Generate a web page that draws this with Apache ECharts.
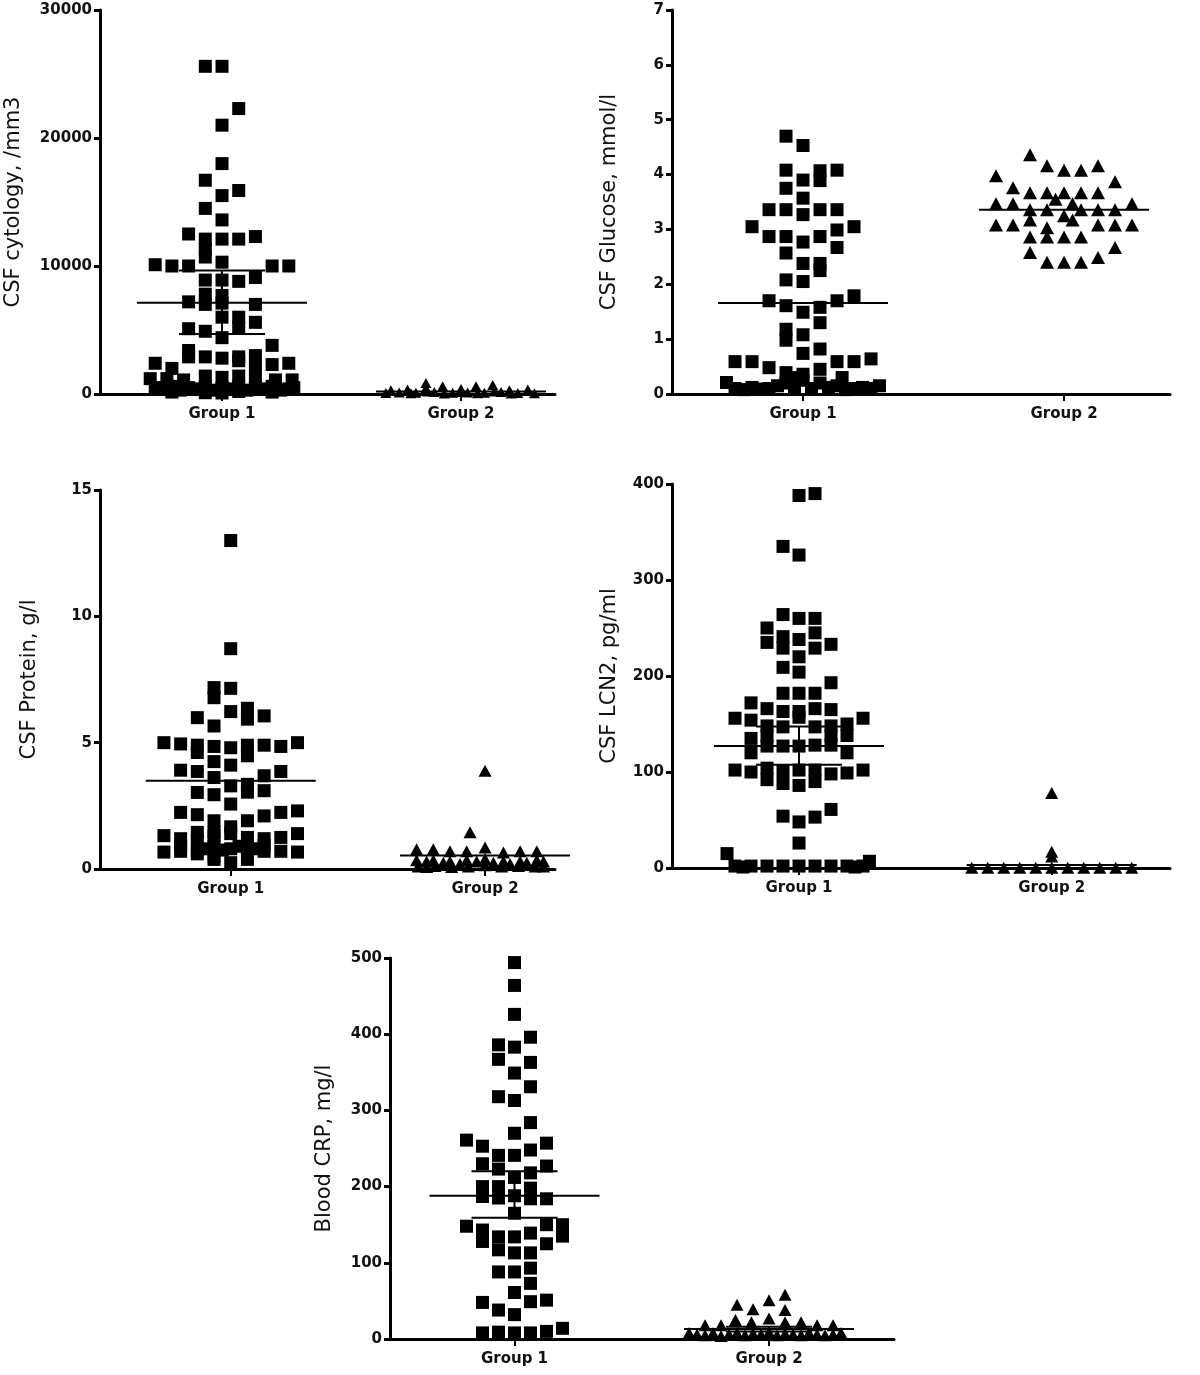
<!DOCTYPE html>
<html><head><meta charset="utf-8">
<script src="https://cdn.jsdelivr.net/npm/echarts@6/dist/echarts.min.js"></script>
<style>html,body{margin:0;padding:0;background:#fff}#c{width:1200px;height:1375px}</style>
</head><body><div id="c"></div>
<script>
// ---------------- DATA ----------------
const groups = ['Group 1', 'Group 2'];
const titles = ['CSF cytology, /mm3', 'CSF Glucose, mmol/l', 'CSF Protein, g/l', 'CSF LCN2, pg/ml', 'Blood CRP, mg/l'];
const yMaxes = [30000, 7, 15, 400, 500];
const yIntervals = [10000, 1, 5, 100, 100];

// points: [jitter slot, value]
const cytoG1 = [[-1,25600],[0,25600],[1,22300],[0,21000],[0,18000],[-1,16700],[1,15900],[0,15500],[-1,14500],[0,13600],
 [-2,12500],[-1,12100],[0,12100],[1,12100],[2,12300],[-1,11300],[-1,10700],
 [-4,10100],[-3,10000],[-2,10000],[3,10000],[4,10000],[0,10300],
 [-1,8900],[0,8900],[1,8800],[2,9100],[-1,7800],[-1,7000],[-2,7200],[0,7700],[0,7100],[2,7000],
 [0,6000],[1,6000],[1,5200],[2,5600],[-2,5100],[-1,4900],[0,4400],[3,3800],
 [-2,3400],[-2,2900],[-1,2900],[0,2800],[1,2900],[2,3000],[1,2600],
 [-4,2400],[-3,2000],[2,2000],[3,2300],[4,2400],
 [-4.3,1200],[-3.3,1200],[-2.3,1100],[-1,1400],[0,1300],[1,1400],[2,1100],[3.2,1100],[4.2,1100],
 [-4,500],[-3.5,400],[-3,600],[-2.5,300],[-2,500],[-1.5,400],[-1,600],[-0.5,300],[0,500],[0.5,400],[1,600],[1.5,300],[2,500],[2.5,400],[3,600],[3.5,300],[4,400],[4.3,500],
 [-3,150],[-1,100],[1,200],[3,150],[0,80]];
const cytoG2 = [[-4.2,300],[-3.2,350],[-2.1,850],[-2.1,450],[-1.1,600],[0,400],[0.9,600],[1.9,700],[2.9,300],[4,350],
 [-4.5,80],[-3.7,120],[-2.7,100],[-1.6,150],[-0.5,100],[0.4,120],[1.4,90],[2.4,150],[3.4,80],[4.4,60],
 [-3,50],[-1,40],[1,60],[3,40],[0,150],[2,200],[-2,200]];
const cytoMean = [7120, 200];
const cytoErr = [[4690, 9650], null];

const gluG1 = [[-1,4.70],[0,4.53],[-1,4.08],[1,4.07],[1,3.89],[2,4.08],[0,3.90],[-1,3.75],[0,3.57],
 [-2,3.36],[-1,3.36],[1,3.36],[2,3.36],[0,3.27],[-3,3.05],[3,3.05],
 [-2,2.87],[-1,2.87],[1,2.87],[2,2.99],[0,2.77],[-1,2.57],[2,2.67],[0,2.38],[1,2.38],[1,2.25],
 [-1,2.08],[0,2.05],[-2,1.70],[-1,1.61],[1,1.58],[2,1.70],[3,1.79],[0,1.49],[1,1.30],
 [-1,1.18],[-1,0.98],[0,1.08],[1,0.82],[0,0.74],[-4,0.59],[-3,0.59],[2,0.59],[3,0.59],[4,0.64],
 [-2,0.48],[-1,0.39],[0,0.36],[1,0.45],[-4.5,0.21],[2.3,0.30],
 [-4,0.10],[-3.5,0.08],[-3,0.12],[-2.5,0.09],[-2,0.10],[-1.5,0.15],[-1,0.20],[-0.5,0.12],[0,0.25],[0.5,0.10],[1,0.20],[1.5,0.12],[2,0.15],[2.5,0.08],[3,0.10],[3.5,0.12],[4,0.10],[4.5,0.15],[-0.5,0.30]];
const gluG2 = [[-2,4.36],[-1,4.16],[0,4.08],[1,4.08],[2,4.16],[-4,3.98],[3,3.87],
 [-3,3.76],[-2,3.67],[-1,3.67],[0,3.67],[1,3.67],[2,3.67],[-0.5,3.55],
 [-4,3.47],[-3,3.47],[4,3.47],[0.5,3.47],[-2,3.36],[-1,3.36],[1,3.36],[2,3.36],[3,3.36],[0,3.25],
 [-2,3.17],[0.5,3.17],[-4,3.08],[-3,3.08],[2,3.08],[3,3.08],[4,3.08],[-1,3.03],
 [-2,2.86],[-1,2.86],[0,2.86],[1,2.86],[3,2.67],[-2,2.58],[-1,2.40],[0,2.40],[1,2.40],[2,2.49]];
const gluMean = [1.66, 3.36];
const gluErr = [null, null];

const protG1 = [[0,13.0],[0,8.72],[-1,7.18],[-1,6.78],[0,7.15],
 [-2,5.99],[-1,5.66],[0,6.23],[1,6.36],[1,5.93],[2,6.06],
 [-4,5.0],[-3,4.95],[-2,4.9],[-2,4.61],[-1,4.85],[0,4.8],[1,4.9],[1,4.48],[2,4.9],[3,4.85],[4,5.0],
 [-3,3.91],[-2,3.86],[-1,4.25],[0,4.11],[3,3.86],[2,3.69],
 [-1,3.62],[0,3.29],[1,3.35],[1,3.04],[-2,3.03],[-1,2.94],[2,3.1],[0,2.57],
 [-3,2.24],[-2,2.15],[3,2.24],[4,2.3],[2,2.1],[-1,1.91],[-1,1.45],[0,1.67],[1,1.91],[0,1.4],
 [-4,1.32],[-3,1.2],[-2,1.45],[-2,1.15],[-1,1.32],[1,1.25],[2,1.2],[3,1.25],[4,1.4],
 [-4,0.67],[-3,0.7],[-3,0.9],[-2,0.75],[-1,0.9],[-1,0.5],[0,0.8],[1,0.85],[1,0.38],[2,0.7],[2,0.95],[3,0.7],[4,0.67],[0,0.25],[-1,0.38],[-2,0.6],[0.5,0.9],[-0.5,0.75],[1.5,0.8],[-1.5,0.8]];
const protG2 = [[0,3.89],[-0.9,1.45],
 [-4.1,0.78],[-3.1,0.78],[-2.1,0.7],[-1.1,0.7],[0,0.85],[1.1,0.65],[2.1,0.7],[3.1,0.7],
 [-4.1,0.35],[-3.5,0.3],[-3.1,0.35],[-2.5,0.25],[-2.1,0.3],[-1.5,0.2],[-1.1,0.35],[-0.5,0.3],[0,0.4],[0.5,0.25],[1.1,0.3],[1.5,0.2],[2.1,0.3],[2.5,0.25],[3.1,0.35],[3.5,0.3],
 [-4,0.1],[-3,0.12],[-2,0.08],[-1,0.1],[0,0.15],[1,0.1],[2,0.12],[3,0.1],[3.5,0.1],[-3.5,0.08]];
const protMean = [3.49, 0.53];
const protErr = [null, null];

const lcnG1 = [[0,388],[1,390],[-1,335],[0,326],[-1,264],[0,260],[1,260],
 [-2,250],[-2,235],[-1,241],[-1,229],[0,238],[1,245],[1,229],[2,233],[0,220],[-1,209],[0,204],[2,193],
 [-1,182],[0,182],[1,182],[-3,172],[-2,166],[1,166],[2,165],[-1,163],[0,163],
 [-4,156],[-3,154],[-2,148],[-1,147],[0,157],[1,147],[2,148],[3,150],[4,156],
 [-3,135],[-3,120],[-2,138],[-2,127],[-1,127],[0,127],[1,128],[2,138],[2,128],[3,138],[3,120],
 [-4,102],[-3,100],[-2,104],[-2,92],[-1,101],[0,102],[1,102],[2,98],[3,99],[4,102],
 [-1,88],[0,86],[1,90],[-1,54],[0,48],[1,53],[2,61],[0,26],[-4.5,15],[4.4,7],
 [-4,2],[-3,2],[-2,2],[-1,2],[0,2],[1,2],[2,2],[3,2],[4,2],[-3.5,1],[3.5,1]];
const lcnG2 = [[0,78],[0,17],[0,12],[-5,0.3],[-4,0.3],[-3,0.3],[-2,0.3],[-1,0.3],[0,0.3],[1,0.3],[2,0.3],[3,0.3],[4,0.3],[5,0.3]];
const lcnMean = [127, 3];
const lcnErr = [[107.5, 147.4], null];

const crpG1 = [[0,494],[0,464],[0,426],[1,396],[-1,386],[-1,367],[0,383],[1,363],[0,349],[1,331],[-1,318],[0,313],[1,284],[0,270],
 [-3,261],[-2,253],[-1,241],[0,241],[1,248],[2,257],[-2,230],[-1,223],[0,212],[1,218],[2,227],
 [-2,200],[-2,187],[-1,200],[-1,185],[0,188],[1,198],[1,184],[2,184],[0,165],
 [-3,148],[-2,143],[-2,128],[-1,134],[-1,117],[0,134],[1,139],[2,150],[2,125],[3,150],[3,135],
 [0,113],[1,113],[-1,88],[0,88],[1,93],[1,73],[0,61],[-2,48],[2,51],[1,49],[-1,38],[0,32],
 [-2,8],[-1,9],[0,8],[1,8],[2,10],[3,14]];
const crpG2 = [[1,58],[0,51],[-2,45],[-1,39],[1,38],
 [-2.1,25],[-1.1,22],[0,27],[1,22],[2,22],[3,18],[4,18],[-4,18],[-3,18],
 [-5,8],[-4.5,6],[-4,5],[-3.5,8],[-3,4],[-2.5,6],[-2,8],[-1.5,5],[-1,7],[-0.5,6],[0,9],[0.5,5],[1,7],[1.5,6],[2,5],[2.5,8],[3,6],[3.5,5],[4,6],[4.5,8]];
const crpMean = [188, 13];
const crpErr = [[159, 220], [10, 16]];

// ---------------- LAYOUT (not data) ----------------
const panels = [
 {g1: cytoG1, g2: cytoG2, mean: cytoMean, err: cytoErr, grid: {left:100, top:10, width:455, height:384}, xr:[0.4895,2.3933], slot:16.7, gap:76, tri:10},
 {g1: gluG1, g2: gluG2, mean: gluMean, err: gluErr, grid: {left:672, top:10, width:498, height:384}, xr:[0.498,2.406], slot:17, gap:52, tri:13},
 {g1: protG1, g2: protG2, mean: protMean, err: protErr, grid: {left:100, top:490, width:455, height:379}, xr:[0.486,2.275], slot:16.7, gap:60, tri:12},
 {g1: lcnG1, g2: lcnG2, mean: lcnMean, err: lcnErr, grid: {left:672, top:484, width:498, height:384}, xr:[0.4974,2.468], slot:16, gap:52, tri:12},
 {g1: crpG1, g2: crpG2, mean: crpMean, err: crpErr, grid: {left:390, top:958, width:504, height:381}, xr:[0.5108,2.491], slot:16, gap:55, tri:12}
];

const FONT = 'DejaVu Sans';
const grid = [], xAxis = [], yAxis = [], series = [];

function meanRenderer(half, cap) {
  return function (params, api) {
    const g = api.value(0), m = api.value(1), lo = api.value(2), hi = api.value(3);
    const c = api.coord([g, m]);
    const st = {stroke: '#000', lineWidth: 2};
    const ch = [{type: 'line', shape: {x1: c[0] - half, y1: c[1], x2: c[0] + half, y2: c[1]}, style: st}];
    if (!isNaN(lo) && !isNaN(hi) && lo !== hi) {
      const pl = api.coord([g, lo]), ph = api.coord([g, hi]);
      ch.push({type: 'line', shape: {x1: c[0], y1: pl[1], x2: c[0], y2: ph[1]}, style: st});
      ch.push({type: 'line', shape: {x1: c[0] - cap, y1: pl[1], x2: c[0] + cap, y2: pl[1]}, style: st});
      ch.push({type: 'line', shape: {x1: c[0] - cap, y1: ph[1], x2: c[0] + cap, y2: ph[1]}, style: st});
    }
    return {type: 'group', children: ch};
  };
}

panels.forEach((p, i) => {
  grid.push(p.grid);
  const spacingPx = p.grid.width / (p.xr[1] - p.xr[0]);
  const k = p.slot / spacingPx;
  xAxis.push({
    type: 'value', gridIndex: i, min: p.xr[0], max: p.xr[1], z: 5,
    axisLine: {show: true, onZero: false, lineStyle: {color: '#000', width: 3}},
    axisTick: {show: true, customValues: [1, 2], length: 7, lineStyle: {color: '#000', width: 2}},
    axisLabel: {show: true, customValues: [1, 2], formatter: v => groups[Math.round(v) - 1], margin: 13,
      fontFamily: FONT, fontWeight: 'bold', fontSize: 15, color: '#111'},
    splitLine: {show: false}
  });
  yAxis.push({
    type: 'value', gridIndex: i, min: 0, max: yMaxes[i], interval: yIntervals[i], z: 5,
    name: titles[i], nameLocation: 'middle', nameGap: p.gap,
    nameTextStyle: {fontFamily: FONT, fontSize: 21, color: '#111'},
    axisLine: {show: true, lineStyle: {color: '#000', width: 3}},
    axisTick: {show: true, length: 6, lineStyle: {color: '#000', width: 3}},
    axisLabel: {margin: 8, fontFamily: FONT, fontWeight: 'bold', fontSize: 15, color: '#111', formatter: v => String(v)},
    splitLine: {show: false}
  });
  series.push({
    type: 'scatter', xAxisIndex: i, yAxisIndex: i, symbol: 'rect', symbolSize: 13,
    itemStyle: {color: '#000', opacity: 1}, silent: true,
    data: p.g1.map(([s, v]) => [1 + s * k, v])
  });
  series.push({
    type: 'scatter', xAxisIndex: i, yAxisIndex: i, symbol: 'triangle', symbolSize: [p.tri + 1, p.tri],
    itemStyle: {color: '#000', opacity: 1}, silent: true,
    data: p.g2.map(([s, v]) => [2 + s * k, v])
  });
  series.push({
    type: 'custom', xAxisIndex: i, yAxisIndex: i, z: 4, silent: true,
    renderItem: meanRenderer(85, 43),
    data: [0, 1].map(j => {
      const e = p.err[j];
      return [j + 1, p.mean[j], e ? e[0] : p.mean[j], e ? e[1] : p.mean[j]];
    })
  });
});

const chart = echarts.init(document.getElementById('c'), null, {renderer: 'canvas'});
chart.setOption({animation: false, backgroundColor: '#fff', grid, xAxis, yAxis, series});
</script></body></html>
